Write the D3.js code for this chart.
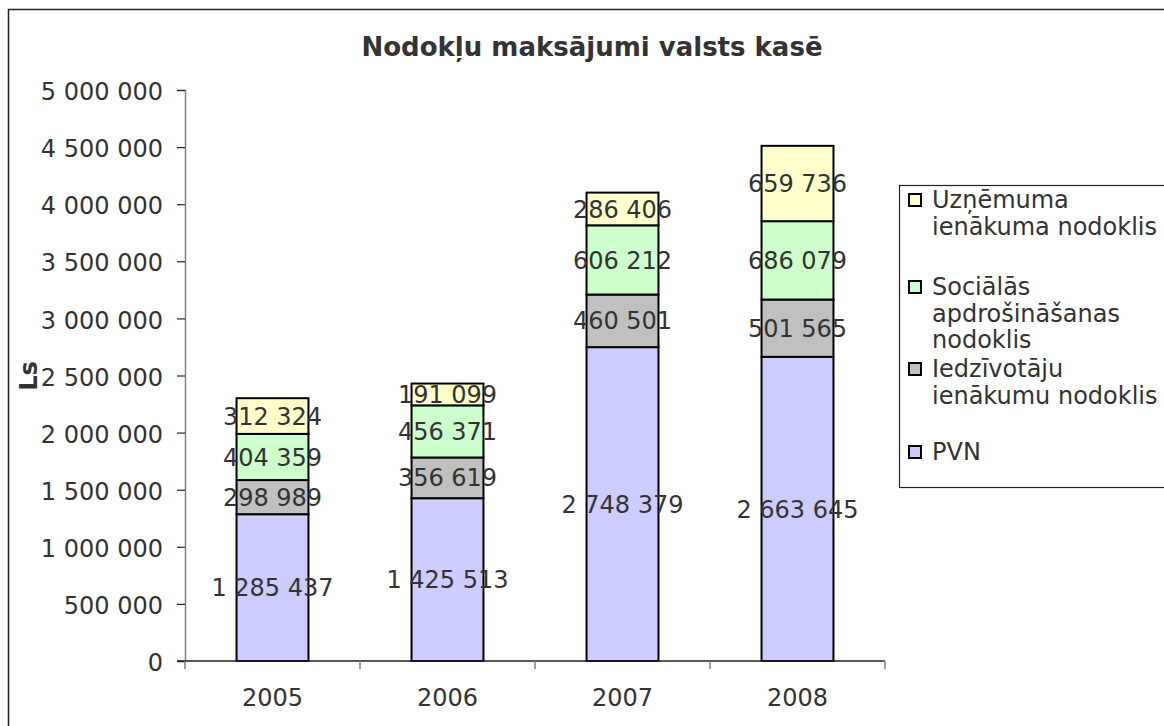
<!DOCTYPE html>
<html>
<head>
  <meta charset="utf-8">
  <title>Nodokļu maksājumi valsts kasē</title>
  <style>
    body { margin: 0; background: #fff; }
    text { font-family: "DejaVu Sans", Verdana, sans-serif; fill: #333; }
    .tick text { font-size: 24px; }
    .lbl { font-size: 24px; }
    .leg text { font-size: 24px; }
  </style>
</head>
<body>
  <div id="chart"></div>

  <script src="https://cdn.jsdelivr.net/npm/d3@7"></script>
  <script>
    var years = ["2005", "2006", "2007", "2008"];
    var seriesNames = ["PVN", "Iedzīvotāju ienākumu nodoklis", "Sociālās apdrošināšanas nodoklis", "Uzņēmuma ienākuma nodoklis"];
    var pvn = [1285437, 1425513, 2748379, 2663645];
    var iin = [298989, 356619, 460501, 501565];
    var soc = [404359, 456371, 606212, 686079];
    var uzn = [312324, 191099, 286406, 659736];
    var colors = ["#ccccff", "#c0c0c0", "#ccffcc", "#ffffcc"];
    var yTicks = [0, 500000, 1000000, 1500000, 2000000, 2500000, 3000000, 3500000, 4000000, 4500000, 5000000];

    // legend text lines, top entry first
    var legendLines = [
      ["Uzņēmuma", "ienākuma nodoklis"],
      ["Sociālās", "apdrošināšanas", "nodoklis"],
      ["Iedzīvotāju", "ienākumu nodoklis"],
      ["PVN"]
    ];
    var legendColors = [colors[3], colors[2], colors[1], colors[0]];

    var W = 1164, H = 726;
    var svg = d3.select("#chart").append("svg")
      .attr("width", W)
      .attr("height", H);

    // outer frame (continues past the right / bottom edge)
    svg.append("rect")
      .attr("x", 8.5).attr("y", 9.5)
      .attr("width", W + 20).attr("height", H + 20)
      .attr("fill", "none")
      .attr("stroke", "#222")
      .attr("stroke-width", 1.5);

    var lv = d3.formatLocale({decimal: ",", thousands: " ", grouping: [3], currency: ["", ""]});
    var fmt = lv.format(",d");

    var x = d3.scaleBand().domain(years).range([185, 885]).paddingInner(0.589).paddingOuter(0.2945);
    var y = d3.scaleLinear().domain([0, 5000000]).range([661, 90]);

    var rows = years.map(function(yr, i) {
      return {year: yr, s0: pvn[i], s1: iin[i], s2: soc[i], s3: uzn[i]};
    });
    var stack = d3.stack().keys(["s0", "s1", "s2", "s3"]);
    var layers = stack(rows);

    // y axis
    var yAxis = svg.append("g")
      .attr("transform", "translate(185,0)")
      .call(d3.axisLeft(y).tickValues(yTicks).tickSize(8).tickPadding(14).tickFormat(fmt));
    yAxis.select(".domain").attr("stroke", "#808080").attr("stroke-width", 1.5);
    yAxis.selectAll(".tick line").attr("stroke", "#222").attr("stroke-width", 1.2);
    yAxis.selectAll(".tick text").attr("fill", "#333").attr("dy", "0.4em").style("font-family", "DejaVu Sans");

    // bars
    var g = svg.append("g");
    layers.forEach(function(layer, k) {
      g.selectAll(".bar" + k)
        .data(layer)
        .enter().append("rect")
        .attr("x", function(d) { return x(d.data.year); })
        .attr("y", function(d) { return y(d[1]); })
        .attr("width", x.bandwidth())
        .attr("height", function(d) { return y(d[0]) - y(d[1]); })
        .attr("fill", colors[k])
        .attr("stroke", "#000")
        .attr("stroke-width", 2);
    });

    // x axis
    var xAxisG = svg.append("g");
    xAxisG.append("line")
      .attr("x1", 177).attr("x2", 885)
      .attr("y1", 661).attr("y2", 661)
      .attr("stroke", "#222").attr("stroke-width", 1.5);
    var bounds = [185].concat(years.map(function(yr) { return x(yr) - x.step() * x.paddingInner() / 2 + x.step(); }));
    xAxisG.selectAll(".xt")
      .data(bounds)
      .enter().append("line")
      .attr("x1", function(d) { return d; }).attr("x2", function(d) { return d; })
      .attr("y1", 661).attr("y2", 669)
      .attr("stroke", "#808080").attr("stroke-width", 1.5);
    xAxisG.selectAll(".xl")
      .data(years)
      .enter().append("text")
      .attr("class", "lbl")
      .attr("x", function(d) { return x(d) + x.bandwidth() / 2; })
      .attr("y", 706)
      .attr("text-anchor", "middle")
      .text(function(d) { return d; });

    // data labels
    layers.forEach(function(layer, k) {
      g.selectAll(".lab" + k)
        .data(layer)
        .enter().append("text")
        .attr("class", "lbl")
        .attr("x", function(d) { return x(d.data.year) + x.bandwidth() / 2; })
        .attr("y", function(d) { return y((d[0] + d[1]) / 2); })
        .attr("dy", "0.36em")
        .attr("text-anchor", "middle")
        .text(function(d) { return fmt(d[1] - d[0]); });
    });

    // title
    svg.append("text")
      .attr("x", 592)
      .attr("y", 56)
      .attr("text-anchor", "middle")
      .style("font-size", "26px")
      .style("font-weight", "bold")
      .text("Nodokļu maksājumi valsts kasē");

    // y axis title
    svg.append("text")
      .attr("transform", "translate(37,376) rotate(-90)")
      .attr("text-anchor", "middle")
      .style("font-size", "24px")
      .style("font-weight", "bold")
      .text("Ls");

    // legend
    var leg = svg.append("g").attr("class", "leg");
    leg.append("rect")
      .attr("x", 899.5).attr("y", 185.5)
      .attr("width", 300).attr("height", 302)
      .attr("fill", "#fff")
      .attr("stroke", "#222")
      .attr("stroke-width", 1.2);
    var itemTop = [208, 295, 377, 460];
    legendLines.forEach(function(lines, i) {
      leg.append("rect")
        .attr("x", 909).attr("y", itemTop[i] - 14)
        .attr("width", 12).attr("height", 12)
        .attr("fill", legendColors[i])
        .attr("stroke", "#000")
        .attr("stroke-width", 2);
      lines.forEach(function(t, j) {
        leg.append("text")
          .attr("x", 932)
          .attr("y", itemTop[i] + j * 26.5)
          .text(t);
      });
    });
  </script>
</body>
</html>
